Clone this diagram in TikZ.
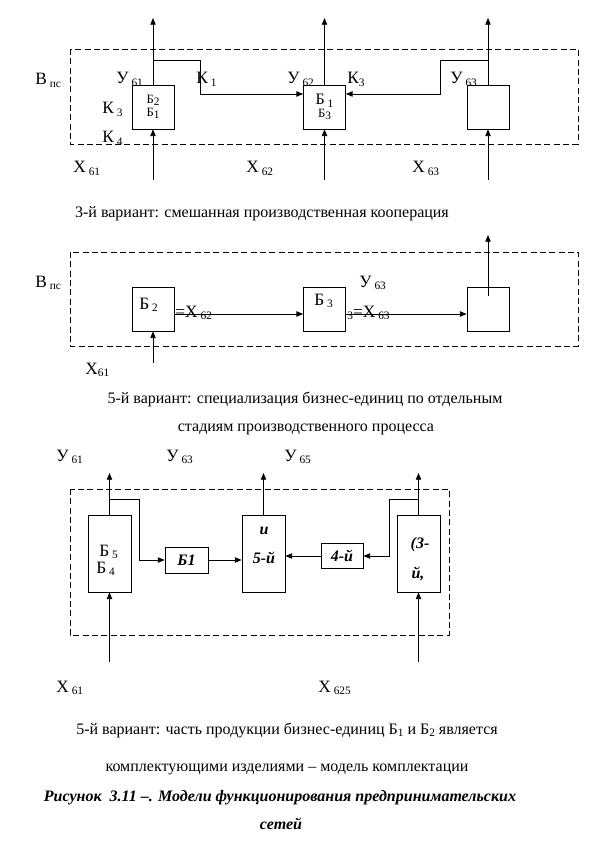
\documentclass[tikz,border=0pt]{standalone}
\usepackage{fontspec}
\setmainfont{Liberation Serif}
\usepackage{tikz}
\usetikzlibrary{arrows.meta}

\newcommand\lo[1]{\raisebox{-0.35ex}{\fontsize{8.5}{9}\selectfont#1}}
\newcommand\sm{\fontsize{9.5}{10}\selectfont}

\begin{document}
\begin{tikzpicture}[x=0.75pt,y=-0.75pt,>={Triangle[length=5pt,width=4pt]},font=\fontsize{12}{14}\selectfont,line width=0.6pt]
\tikzset{blk/.style={draw,inner sep=0pt,minimum width=31.5pt,minimum height=33pt,align=center},
  tall/.style={blk,minimum width=32.25pt,minimum height=57.75pt},
  frame/.style={dash pattern=on 4.5pt off 2.5pt},
  lbl/.style={inner sep=0pt,anchor=base west,font=\fontsize{13}{15}\selectfont},
  captxt/.style={inner sep=0pt,anchor=base},
  bi/.style={font=\fontsize{12}{14}\selectfont\bfseries\itshape}}
\useasboundingbox (0,0) rectangle (609,852);

\draw[frame] (70,49) rectangle (578,144);
\node[blk] (b1) at (153,107) {\sm Б\lo2\\[-4pt]\sm Б\lo1};
\node[blk] (b2) at (324.5,107) {Б\,\lo1\\[-4pt]\sm Б\lo3};
\node[blk] (b3) at (488,107) {};
\coordinate (t1) at (153,18);
\coordinate (t2) at (324.5,18);
\coordinate (t3) at (488,18);
\coordinate (s1) at (153,180);
\coordinate (s2) at (324.5,180);
\coordinate (s3) at (488,180);
\coordinate (k1) at (153,60);
\coordinate (k3) at (488,60);
\draw[->] (b1.north) -- (t1);
\draw[->] (b2.north) -- (t2);
\draw[->] (b3.north) -- (t3);
\draw[->] (s1) -- (b1.south);
\draw[->] (s2) -- (b2.south);
\draw[->] (s3) -- (b3.south);
\draw[->] (k1) -- (200,60) |- ([yshift=9.75pt]b2.west);
\draw[->] (k3) -- (440,60) |- ([yshift=9.75pt]b2.east);
\node[lbl] at (35,85) {В\,\lo{пс}};
\node[lbl] at (116,84) {У\,\lo{61}};
\node[lbl] at (196,84) {К\,\lo1};
\node[lbl] at (102,114) {К\,\lo3};
\node[lbl] at (102,143) {К\,\lo4};
\node[lbl] at (287,84) {У\,\lo{62}};
\node[lbl] at (347,84) {К\lo3};
\node[lbl] at (450,84) {У\,\lo{63}};
\node[lbl] at (73,173) {Х\,\lo{61}};
\node[lbl] at (246,173) {Х\,\lo{62}};
\node[lbl] at (412,173) {Х\,\lo{63}};
\node[captxt] at (262,218) {3-й вариант: смешанная производственная кооперация};

\draw[frame] (70,252) rectangle (578,346);
\node[blk] (c1) at (153,309) {};
\node[blk] (c2) at (324.5,309) {};
\node[blk] (c3) at (488,309) {};
\coordinate (d3) at (488,296);
\coordinate (e3) at (488,235);
\coordinate (s4) at (153,363);
\draw[->] ([yshift=-3.75pt]c1.east) -- ([yshift=-3.75pt]c2.west);
\draw[->] ([yshift=-3.75pt]c2.east) -- ([yshift=-3.75pt]c3.west);
\draw[->] (d3) -- (e3);
\draw[->] (s4) -- (c1.south);
\node[lbl] at (139,309) {Б\,\lo2};
\node[lbl] at (314,305) {Б\,\lo3};
\node[lbl] at (35,287) {В\,\lo{пс}};
\node[lbl] at (175,317) {=Х\,\lo{62}};
\node[lbl] at (347,317) {\lo3=Х\,\lo{63}};
\node[lbl] at (359,287) {У\,\lo{63}};
\node[lbl] at (85,374) {Х\lo{61}};
\node[captxt] at (305,403) {5-й вариант: специализация бизнес-единиц по отдельным};
\node[captxt] at (306,431) {стадиям производственного процесса};

\draw[frame] (70,489) rectangle (449,635);
\node[tall] (f1) at (109.5,553.5) {};
\node[blk,minimum width=32.25pt,minimum height=19.5pt,bi] (f2) at (186.5,560) {Б1};
\node[tall] (f3) at (263.5,553.5) {};
\node[blk,minimum width=31.5pt,minimum height=18.75pt,bi] (f4) at (342,556) {4-й};
\node[tall] (f5) at (418.5,553.5) {};
\coordinate (u1) at (109.5,473);
\coordinate (u3) at (263.5,473);
\coordinate (u5) at (418.5,473);
\coordinate (g1) at (109.5,499);
\coordinate (g5) at (418.5,499);
\coordinate (w1) at (109.5,662);
\coordinate (w5) at (418.5,662);
\draw[->] (f1.north) -- (u1);
\draw[->] (f3.north) -- (u3);
\draw[->] (f5.north) -- (u5);
\draw[->] (g1) -- (139,499) |- (f2.west);
\draw[->] (f2.east) -- (f3.west |- f2.east);
\draw[->] (g5) -- (389,499) |- (f4.east);
\draw[->] (f4.west) -- (f3.east |- f4.west);
\draw[->] (w1) -- (f1.south);
\draw[->] (w5) -- (f5.south);
\node[lbl] at (99,556) {Б\,\lo5};
\node[lbl] at (96,573) {Б\,\lo4};
\node[captxt,bi] at (264,534) {и};
\node[captxt,bi] at (264,563) {5-й};
\node[captxt,bi] at (420,548) {(3-};
\node[captxt,bi] at (418,578) {й,};
\node[lbl] at (56,461) {У\,\lo{61}};
\node[lbl] at (166,461) {У\,\lo{63}};
\node[lbl] at (284,461) {У\,\lo{65}};
\node[lbl] at (56,692) {Х\,\lo{61}};
\node[lbl] at (318,692) {Х\,\lo{625}};
\node[captxt] at (287,734) {5-й вариант: часть продукции бизнес-единиц Б\lo1 и Б\lo2 является};
\node[captxt] at (287,771) {комплектующими изделиями -- модель комплектации};
\node[captxt,bi] at (280,801) {Рисунок\ \ 3.11 --. Модели функционирования предпринимательских};
\node[captxt,bi] at (281,829) {сетей};
\end{tikzpicture}
\end{document}
